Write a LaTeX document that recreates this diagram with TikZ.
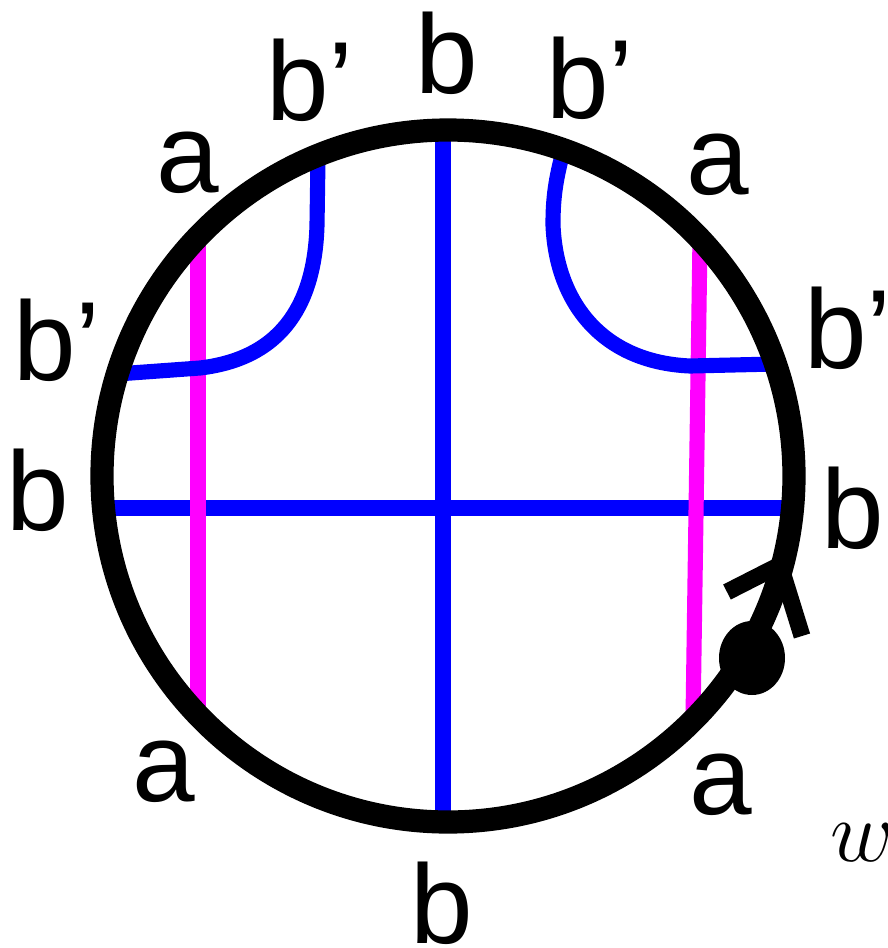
\documentclass[tikz,border=0pt]{standalone}
\usepackage{fontspec}
\setmainfont{Liberation Sans}
\usepackage{tikz}
\definecolor{apink}{RGB}{255,0,255}

\begin{document}
\begin{tikzpicture}[
    % Define styles for the wall, the strands and the labels
    x=0.01cm, y=-0.01cm,
    wall/.style={line width=6.6pt},
    bstrand/.style={line width=4.3pt, blue},
    astrand/.style={line width=4.3pt, apink},
    wing/.style={line width=4.8pt},
    lbl/.style={font=\fontsize{32}{36}\selectfont, inner sep=0pt}
]
    \useasboundingbox (0,0) rectangle (888,948);

    % Define the points on the circle
    \coordinate (centre) at (448,476);
    \coordinate (bt) at (443,130);
    \coordinate (bb) at (443,822);
    \coordinate (bl) at (103,508);
    \coordinate (br) at (793,508);
    \coordinate (at1) at (198,237);
    \coordinate (ab1) at (198,715);
    \coordinate (at2) at (700,239);
    \coordinate (ab2) at (693,720);
    \coordinate (btl) at (318,158);
    \coordinate (bl2) at (117,374);
    \coordinate (btr) at (563,152);
    \coordinate (br2) at (775,364);
    \coordinate (tip) at (780,565);
    \coordinate (wl) at (727,592);
    \coordinate (wr) at (802,636);

    % Draw the strands
    \draw[bstrand] (bt) -- (bb);
    \draw[bstrand] (bl) -- (br);
    \draw[astrand] (at1) -- (ab1);
    \draw[astrand] (at2) -- (ab2);
    \draw[bstrand] (btl) -- (317,225) .. controls (315,300) and (285,358) .. (200,368) -- (bl2);
    \draw[bstrand] (btr) .. controls (554,185) and (553,205) .. (553,225)
        .. controls (556,300) and (600,362) .. (690,366) -- (br2);

    % Draw the circle, the arrow and the base point
    \draw[wall] (centre) circle (346);
    \draw[wing] (tip) -- (wl);
    \draw[wing] (tip) -- (wr);
    \fill (752,658) ellipse (33 and 37);

    % Place the labels
    \node[lbl] (lbt) at (447,53) {b};
    \node[lbl] (lbtl) at (310,80) {b’};
    \node[lbl] (lbtr) at (590,78) {b’};
    \node[lbl] (latl) at (188,163) {a};
    \node[lbl] (latr) at (718,165) {a};
    \node[lbl] (lbl1) at (57,340) {b’};
    \node[lbl] (lbr1) at (848,328) {b’};
    \node[lbl] (lbl2) at (38,490) {b};
    \node[lbl] (lbr2) at (853,508) {b};
    \node[lbl] (labl) at (164,772) {a};
    \node[lbl] (labr) at (721,785) {a};
    \node[lbl] (lbb) at (442,903) {b};
    \node[inner sep=0pt, font=\fontsize{28}{32}\selectfont] (lw) at (862,843) {$w$};
\end{tikzpicture}
\end{document}
